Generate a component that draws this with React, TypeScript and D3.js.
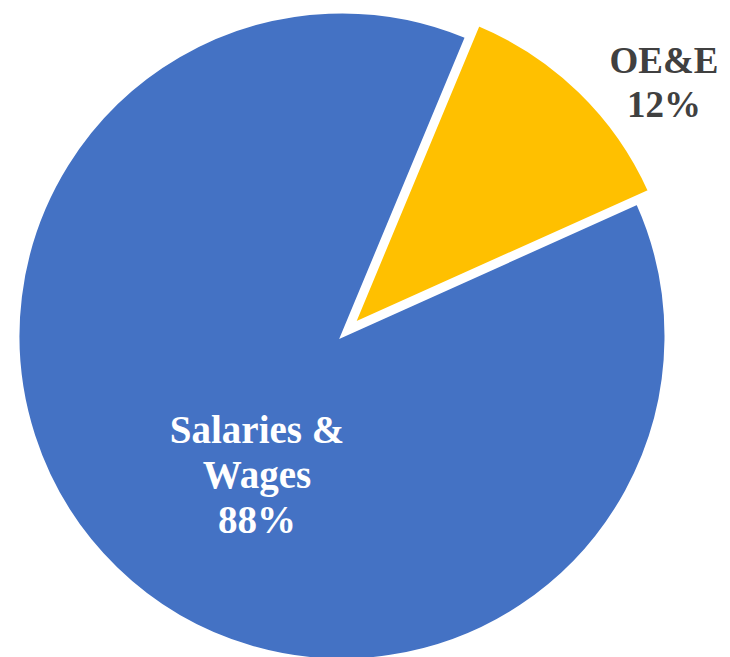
import React from "react";
import * as d3 from "d3";

// slice data, clockwise from the OE&E slice
const categories = ["OE&E", "Salaries & Wages"];
const values = [12, 88];
const colors = ["#FFC000", "#4472C4"];
const labelLines = [["OE&E", "12%"], ["Salaries &", "Wages", "88%"]];

const width = 730;
const height = 657;

const App = () => {
  const cx = 342;
  const cy = 336;
  const radius = 324;
  const explode = [17, 0];

  const start = (22.6 * Math.PI) / 180;
  const pie = d3
    .pie<number>()
    .sort(null)
    .startAngle(start)
    .endAngle(start + 2 * Math.PI);
  const arcs = pie(values);

  const arc = d3.arc<d3.PieArcDatum<number>>().innerRadius(0).outerRadius(radius);

  // first baseline of each label block
  const labelPos = [
    { x: 664, y: 73, size: 37, lh: 44, fill: "#404040" },
    { x: 257, y: 443, size: 39, lh: 45, fill: "#ffffff" },
  ];

  return (
    <svg
      width={width}
      height={height}
      style={{ position: "absolute", left: 0, top: 0 }}
      fontFamily="'Liberation Serif', serif"
      fontWeight="bold"
    >
      <rect width={width} height={height} fill="#ffffff" />
      <g transform={`translate(${cx},${cy})`}>
        {arcs.map((a, i) => {
          const mid = (a.startAngle + a.endAngle) / 2;
          const dx = Math.sin(mid) * explode[i];
          const dy = -Math.cos(mid) * explode[i];
          return (
            <path
              key={categories[i]}
              d={arc(a) || ""}
              transform={`translate(${dx},${dy})`}
              fill={colors[i]}
              stroke="#ffffff"
              strokeWidth={3}
              strokeLinejoin="miter"
            />
          );
        })}
      </g>
      {labelLines.map((lines, i) => {
        const p = labelPos[i];
        return (
          <text
            key={categories[i]}
            textAnchor="middle"
            fill={p.fill}
            fontSize={p.size}
          >
            {lines.map((t, j) => (
              <tspan key={j} x={p.x} y={p.y + j * p.lh}>
                {t}
              </tspan>
            ))}
          </text>
        );
      })}
    </svg>
  );
};

export default App;
